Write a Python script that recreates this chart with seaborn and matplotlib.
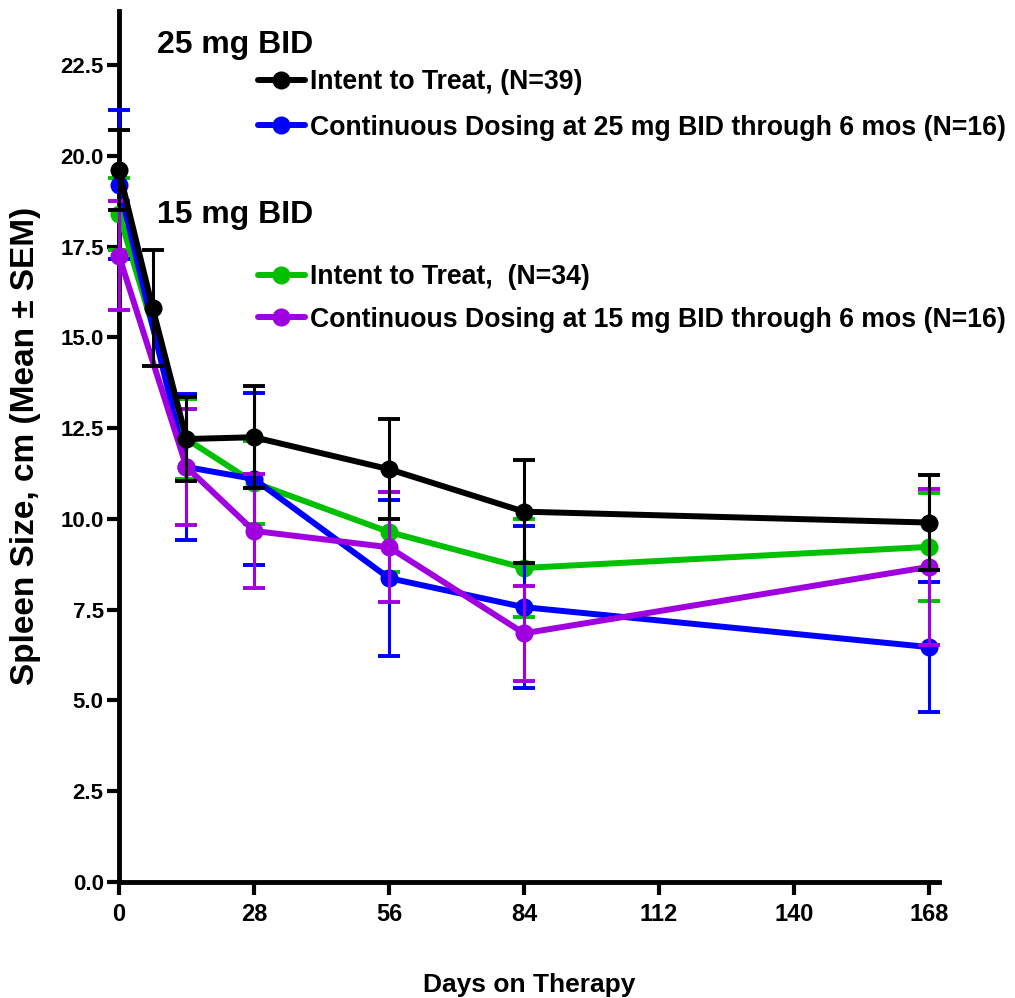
import matplotlib
matplotlib.use("Agg")
import matplotlib.pyplot as plt
import seaborn as sns
import pandas as pd
import numpy as np
from matplotlib.lines import Line2D

# ---- data ----
days_itt25 = [0, 7, 14, 28, 56, 84, 168]
mean_itt25 = [19.6, 15.8, 12.2, 12.25, 11.37, 10.2, 9.9]
sem_itt25 = [1.1, 1.6, 1.15, 1.4, 1.38, 1.42, 1.3]

days_cd25 = [0, 14, 28, 56, 84, 168]
mean_cd25 = [19.2, 11.43, 11.1, 8.37, 7.57, 6.47]
sem_cd25 = [2.05, 2.0, 2.37, 2.15, 2.23, 1.8]

days_itt15 = [0, 14, 28, 56, 84, 168]
mean_itt15 = [18.4, 12.2, 11.0, 9.64, 8.65, 9.23]
sem_itt15 = [1.0, 1.1, 1.15, 1.1, 1.35, 1.48]

days_cd15 = [0, 14, 28, 56, 84, 168]
mean_cd15 = [17.25, 11.43, 9.67, 9.22, 6.85, 8.68]
sem_cd15 = [1.5, 1.6, 1.58, 1.52, 1.3, 2.14]

labels = ["Intent to Treat, (N=39)",
          "Continuous Dosing at 25 mg BID through 6 mos (N=16)",
          "Intent to Treat,  (N=34)",
          "Continuous Dosing at 15 mg BID through 6 mos (N=16)"]
colors = ["#000000", "#0000FF", "#00C000", "#A000E0"]
x_ticks = [0, 28, 56, 84, 112, 140, 168]
y_ticks = [0.0, 2.5, 5.0, 7.5, 10.0, 12.5, 15.0, 17.5, 20.0, 22.5]

series = [
    (days_itt25, mean_itt25, sem_itt25, labels[0], colors[0]),
    (days_cd25, mean_cd25, sem_cd25, labels[1], colors[1]),
    (days_itt15, mean_itt15, sem_itt15, labels[2], colors[2]),
    (days_cd15, mean_cd15, sem_cd15, labels[3], colors[3]),
]

sns.set_style("ticks")
plt.rcParams['font.family'] = ['Liberation Sans', 'DejaVu Sans']
plt.rcParams['font.weight'] = 'bold'
for k in ['text.color', 'axes.labelcolor', 'xtick.color', 'ytick.color', 'axes.edgecolor']:
    plt.rcParams[k] = 'black'

fig = plt.figure(figsize=(10.15, 9.98), dpi=100)
ax = fig.add_axes([0.1172, 0.1162, 0.8076, 0.8732])

MS = 13
LW = 4.3
draw_order = [2, 1, 3, 0]
z = 3
for i in draw_order:
    d, m, s, lab, c = series[i]
    df = pd.DataFrame({"day": d, "mean": m})
    ax.errorbar(d, m, yerr=s, fmt='none', ecolor=c, elinewidth=2.2,
                capsize=8, capthick=2.8, zorder=z, clip_on=False)
    sns.lineplot(data=df, x="day", y="mean", ax=ax, color=c, linewidth=LW,
                 marker='o', markersize=MS, markeredgewidth=0,
                 zorder=z + 0.5, clip_on=False, legend=False)
    z += 1

ax.set_xlim(0, 170)
ax.set_ylim(0, 24)
ax.set_xticks(x_ticks)
ax.set_xticklabels([str(t) for t in x_ticks])
ax.set_yticks(y_ticks)
ax.set_yticklabels([f"{t:.1f}" for t in y_ticks])
sns.despine(ax=ax)
for sp in ["left", "bottom"]:
    ax.spines[sp].set_linewidth(3.5)
    ax.spines[sp].set_color('black')
ax.tick_params(axis='both', width=3, length=9, labelsize=16, direction='out', colors='black')
ax.tick_params(axis='y', pad=2)
ax.tick_params(axis='x', pad=6, labelsize=17)
for lab in ax.get_xticklabels() + ax.get_yticklabels():
    lab.set_fontweight('bold')

ax.set_xlabel("Days on Therapy", fontsize=19, fontweight='bold', labelpad=34)
ax.set_ylabel("Spleen Size, cm (Mean \u00b1 SEM)", fontsize=24, fontweight='bold', labelpad=14)

def handle(c):
    return Line2D([0], [0], color=c, linewidth=LW, marker='o', markersize=MS, markeredgewidth=0)

fig.text(0.1547, 0.955, "25 mg BID", fontsize=23, fontweight='bold', va='center', ha='left')
fig.text(0.1547, 0.7846, "15 mg BID", fontsize=23, fontweight='bold', va='center', ha='left')

FS = 19.2
leg1 = fig.legend([handle(colors[0]), handle(colors[1])], labels[:2],
                  loc='center left', bbox_to_anchor=(258 / 1015, 1 - 105 / 998),
                  frameon=False, borderpad=0, borderaxespad=0,
                  handlelength=1.75, handletextpad=0.2, labelspacing=0.72,
                  prop={'weight': 'bold', 'size': FS})
leg2 = fig.legend([handle(colors[2]), handle(colors[3])], labels[2:],
                  loc='center left', bbox_to_anchor=(258 / 1015, 1 - 298.5 / 998),
                  frameon=False, borderpad=0, borderaxespad=0,
                  handlelength=1.75, handletextpad=0.2, labelspacing=0.62,
                  prop={'weight': 'bold', 'size': FS})

fig.savefig("out.png", dpi=100)
